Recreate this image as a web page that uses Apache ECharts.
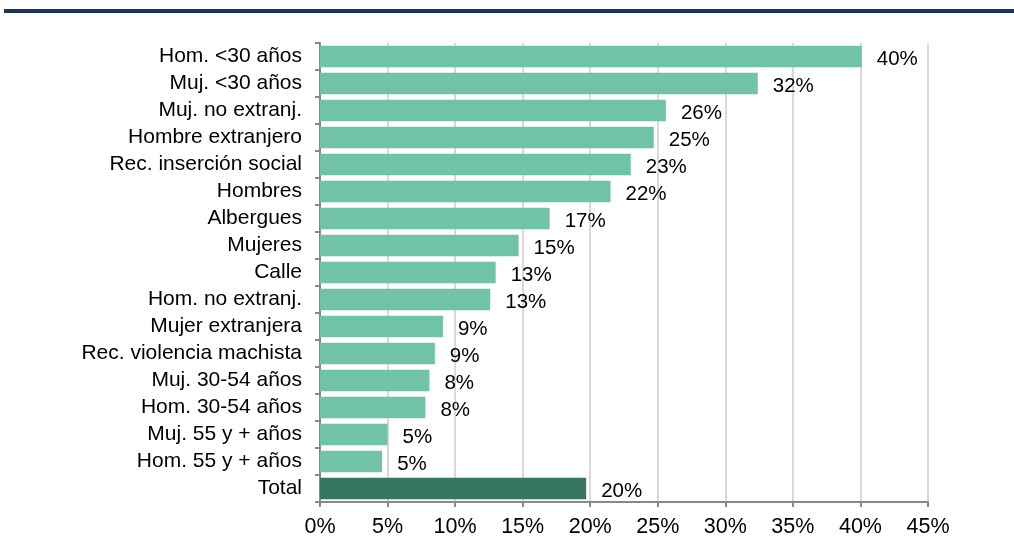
<!DOCTYPE html>
<html><head><meta charset="utf-8">
<script src="https://cdn.jsdelivr.net/npm/echarts@6/dist/echarts.min.js"></script>
<style>html,body{margin:0;padding:0;background:#fff}#bar{position:absolute;left:4px;top:9px;width:1010px;height:4px;background:#1b365d}#c{width:1014px;height:552px}</style>
</head><body><div id="bar"></div><div id="c"></div>
<script>
const categories = ["Hom. <30 años","Muj. <30 años","Muj. no extranj.","Hombre extranjero","Rec. inserción social","Hombres","Albergues","Mujeres","Calle","Hom. no extranj.","Mujer extranjera","Rec. violencia machista","Muj. 30-54 años","Hom. 30-54 años","Muj. 55 y + años","Hom. 55 y + años","Total"];
const values = [40.1,32.4,25.6,24.7,23.0,21.5,17.0,14.7,13.0,12.6,9.1,8.5,8.1,7.8,5.0,4.6,19.7];
const xTicks = {min:0,max:45,interval:5};
const chart = echarts.init(document.getElementById('c'));
const font = 'Liberation Sans, Arial, sans-serif';
chart.setOption({
  animation:false,
  grid:{left:320,right:86,top:43,bottom:50},
  xAxis:{type:'value',min:xTicks.min,max:xTicks.max,interval:xTicks.interval,
    axisLabel:{formatter:'{value}%',color:'#000',fontSize:21.5,fontFamily:font,margin:14},
    axisLine:{show:true,lineStyle:{color:'#888',width:2}},
    axisTick:{show:true,length:5,lineStyle:{color:'#888',width:2}},
    splitLine:{show:true,lineStyle:{color:'#d9d9d9',width:2}}},
  yAxis:{type:'category',inverse:true,data:categories,
    axisLabel:{color:'#000',fontSize:21,fontFamily:font,margin:18,interval:0},
    axisLine:{lineStyle:{color:'#888',width:2}},
    axisTick:{show:true,length:5,interval:0,lineStyle:{color:'#888',width:2}}},
  series:[{type:'bar',barCategoryGap:'20%',
    data:values.map((v,i)=>({value:v,itemStyle:{color:categories[i]==='Total'?'#357660':'#70c3a6'}})),
    label:{show:true,position:'right',distance:15,offset:[0,3],color:'#000',fontSize:20.5,fontFamily:font,
      formatter:p=>Math.round(p.value)+'%'}}]
});
</script></body></html>
